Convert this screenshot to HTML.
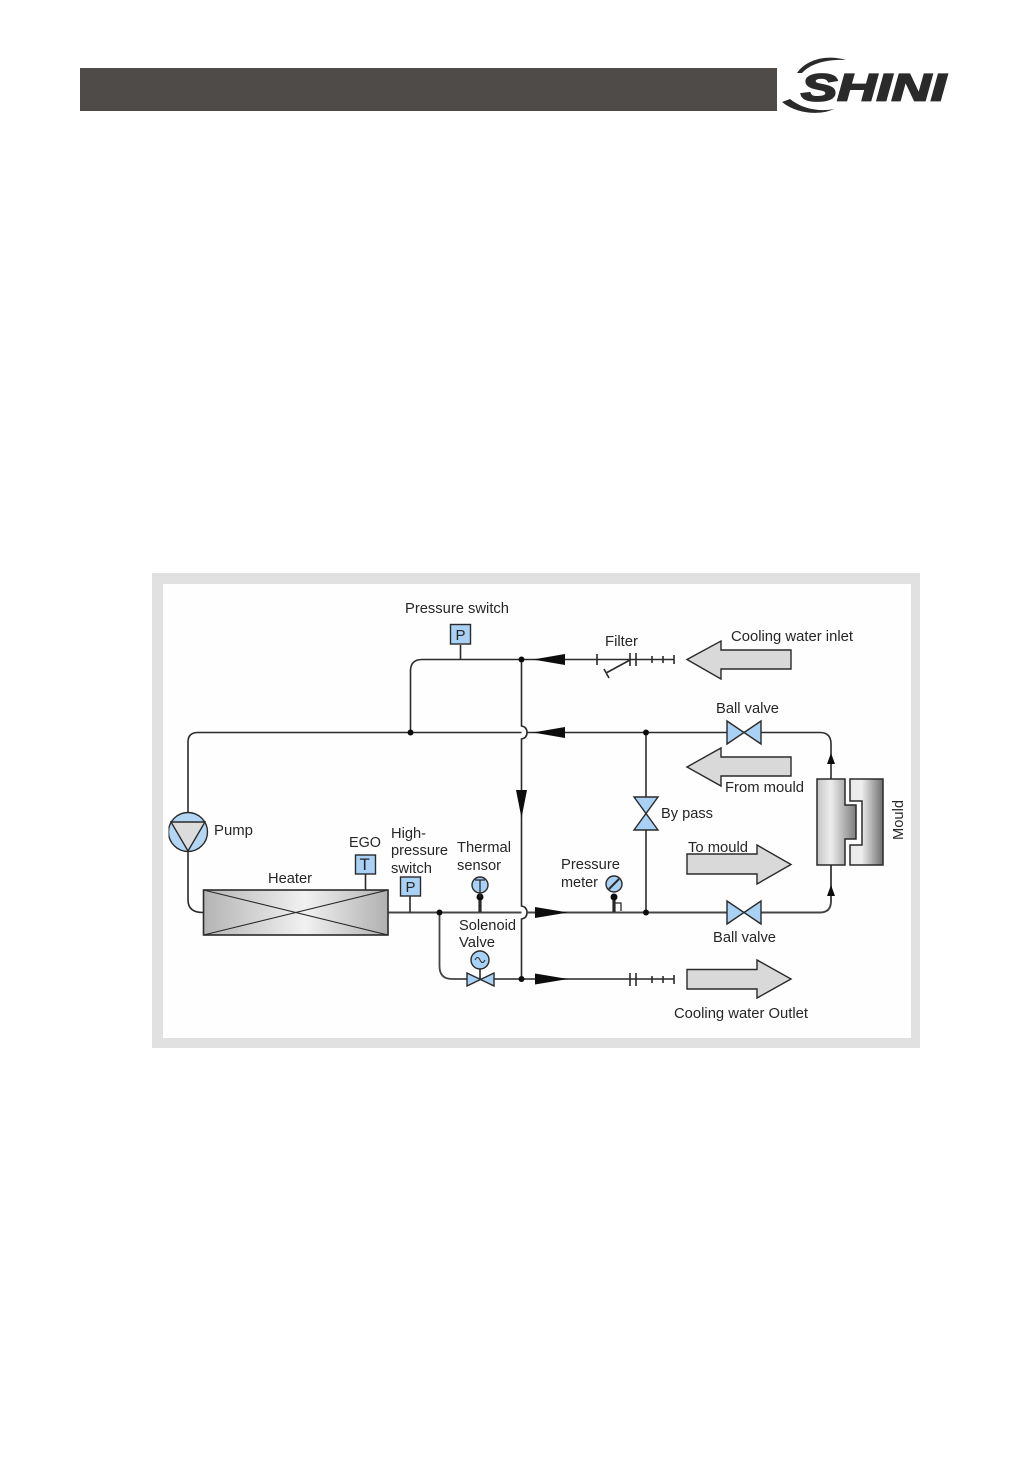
<!DOCTYPE html>
<html><head><meta charset="utf-8"><style>
html,body{margin:0;padding:0;background:#fff}
svg{display:block}
text{font-family:"Liberation Sans",sans-serif;font-size:14.5px;fill:#262626}
</style></head><body>
<svg width="1032" height="1458" viewBox="0 0 1032 1458" xmlns="http://www.w3.org/2000/svg">
<defs>
<linearGradient id="h" x1="0" x2="1" y1="0" y2="0"><stop offset="0" stop-color="#b4b4b4"/><stop offset=".55" stop-color="#f1f1f1"/><stop offset="1" stop-color="#b0b0b0"/></linearGradient>
<linearGradient id="ml" gradientUnits="userSpaceOnUse" x1="817" x2="856" y1="0" y2="0"><stop offset="0" stop-color="#c4c4c4"/><stop offset=".35" stop-color="#eeeeee"/><stop offset="1" stop-color="#7d7d7d"/></linearGradient>
<linearGradient id="mr" x1="0" x2="1" y1="0" y2="0"><stop offset="0" stop-color="#e8e8e8"/><stop offset=".35" stop-color="#efefef"/><stop offset="1" stop-color="#6e6e6e"/></linearGradient>
<filter id="soft" x="0" y="0" width="100%" height="100%"><feGaussianBlur stdDeviation="0.35"/></filter>
</defs>
<rect x="80" y="68" width="697" height="43" fill="#4f4b49"/>
<!-- logo -->
<g fill="#2a2a2a" filter="url(#soft)">
<path d="M797 73 C806 60 826 54 846 60 C826 59 810 64 802 73Z"/>
<path d="M782 102 L790 99 C802 109 820 112 834 109 C822 115 798 115 782 102Z"/>
<text x="801" y="100.500" textLength="145" lengthAdjust="spacingAndGlyphs" style="font-size:38px;font-weight:bold;font-style:italic;fill:#2a2a2a;stroke:#2a2a2a;stroke-width:1.8">SHINI</text>
</g>
<!-- frame -->
<rect x="152" y="573" width="768" height="475" fill="#e1e1e1"/>
<rect x="163" y="584" width="748" height="454" fill="#fefefe"/>
<g filter="url(#soft)">
<!-- pipes -->
<g fill="none" stroke="#2b2b2b" stroke-width="1.6">
<path d="M188 832V742Q188 732.500 198 732.500H521.500"/>
<path d="M527 732.500H727M761 732.500H820Q831 732.500 831 744V780"/>
<path d="M410.500 732.500V671Q410.500 659.500 422 659.500H674"/>
<path d="M521.500 659.500V726Q527 727 527 732.500Q527 738 521.500 739V906Q527 907 527 912.500Q527 918 521.500 919V979"/>
<path d="M188 850V900Q188 912.500 203 912.500"/>
<path d="M388 912.500H521.500M527 912.500H727M761 912.500H820Q831 912.500 831 901V865" stroke="#444" stroke-width="1.900"/>
<path d="M646 732.500V797M646 830V912.500" stroke="#444" stroke-width="1.800"/>
<path d="M439.500 912.500V966Q439.500 979 452 979H467M494 979H674" stroke="#444" stroke-width="1.800"/>
<path d="M460.500 645V659.500M365.500 874V890M410 896V912.500M480 968V979"/>
<path d="M597 654V665M630 653V666M636 653V666M652 656V663M663 656V663M674 655V664M630 660L607 672.500M604 669L609 678"/>
<path d="M630 973V986M636 973V986M652 976V983M663 976V983M674 975V984"/>
<path d="M615 903H621V911" stroke-width="1.300"/>
<path d="M480 897V912M614 897V912" stroke-width="3.200"/>
</g>
<!-- dots -->
<g fill="#111">
<circle cx="410.500" cy="732.500" r="3"/><circle cx="521.500" cy="659.500" r="3"/><circle cx="646" cy="732.500" r="3"/><circle cx="646" cy="912.500" r="3"/><circle cx="439.500" cy="912.500" r="3"/><circle cx="521.500" cy="979" r="3"/><circle cx="480" cy="897" r="3.500"/><circle cx="614" cy="897" r="3.500"/>
<!-- flow arrows -->
<path d="M533 659.500L565 654V665Z"/><path d="M533 732.500L565 727V738Z"/>
<path d="M568 912.500L535 907V918Z"/><path d="M568 979L535 973.500V984.500Z"/>
<path d="M521.500 818L516 790H527Z"/>
<path d="M831 753L827 764H835Z"/><path d="M831 885L827 896H835Z"/>
</g>
<!-- pump -->
<g stroke="#2b2b2b" stroke-width="1.400">
<circle cx="188" cy="832" r="19.500" fill="#b3d6f4"/>
<path d="M171 822H205L188 851Z" fill="#dcdcdc"/>
<!-- heater -->
<rect x="203.500" y="890" width="184.500" height="45" fill="url(#h)" stroke-width="1.600"/>
<path d="M203.500 890L388 935M388 890L203.500 935" fill="none" stroke-width="1.100"/>
<!-- boxes -->
<rect x="355.500" y="855" width="20" height="19" fill="#a9d1f5"/>
<rect x="400.500" y="877" width="20" height="19" fill="#a9d1f5"/>
<rect x="450.500" y="624.500" width="20" height="19.500" fill="#a9d1f5"/>
<!-- sensors -->
<circle cx="480" cy="885" r="8" fill="#a9d1f5"/>
<circle cx="480" cy="960" r="9" fill="#a9d1f5"/>
<path d="M475 960Q477.500 955 480 960T485 960" fill="none" stroke-width="1"/>
<path d="M475 880H485M480 880V897" fill="none" stroke-width="1.300"/>
<circle cx="614" cy="884" r="8" fill="#a9d1f5"/>
<path d="M609 889L619 879" fill="none" stroke-width="2"/>
<!-- valves -->
<path d="M727 721L744 732.500L727 744ZM761 721L744 732.500L761 744Z" fill="#a9d1f5"/>
<path d="M727 901L744 912.500L727 924ZM761 901L744 912.500L761 924Z" fill="#a9d1f5"/>
<path d="M634 797H658L646 813.500ZM634 830H658L646 813.500Z" fill="#a9d1f5"/>
<path d="M467 973L480.500 979.500L467 986ZM494 973L480.500 979.500L494 986Z" fill="#a9d1f5"/>
<!-- big arrows -->
<path d="M687 659.500L721 641V650H791V669H721V679Z" fill="#d9d9d9"/>
<path d="M687 767L721 748V757H791V776H721V786Z" fill="#d9d9d9"/>
<path d="M687 854H757V845L791 864.500L757 884V874H687Z" fill="#d9d9d9"/>
<path d="M687 969.500H757V960L791 979L757 998V989H687Z" fill="#d9d9d9"/>
<!-- mould -->
<path d="M817 779H845V805H856V839H845V865H817Z" fill="url(#ml)" stroke-width="1.500"/>
<path d="M850 779H883V865H850V845H862V801H850Z" fill="url(#mr)" stroke-width="1.500"/>
</g>
<!-- letters -->
<text x="359.500" y="870" style="font-size:17px">T</text>
<text x="405.500" y="892" style="font-size:15px">P</text>
<text x="455.500" y="640" style="font-size:15px">P</text>
<!-- labels -->
<text x="405" y="613" textLength="104" lengthAdjust="spacingAndGlyphs">Pressure switch</text>
<text x="605" y="646" textLength="33" lengthAdjust="spacingAndGlyphs">Filter</text>
<text x="731" y="641" textLength="122" lengthAdjust="spacingAndGlyphs">Cooling water inlet</text>
<text x="716" y="713" textLength="63" lengthAdjust="spacingAndGlyphs">Ball valve</text>
<text x="725" y="792" textLength="79" lengthAdjust="spacingAndGlyphs">From mould</text>
<text x="661" y="818" textLength="52" lengthAdjust="spacingAndGlyphs">By pass</text>
<text x="214" y="835" textLength="39" lengthAdjust="spacingAndGlyphs">Pump</text>
<text x="349" y="847" textLength="32" lengthAdjust="spacingAndGlyphs">EGO</text>
<text x="391" y="838" textLength="35" lengthAdjust="spacingAndGlyphs">High-</text>
<text x="391" y="855" textLength="57" lengthAdjust="spacingAndGlyphs">pressure</text>
<text x="391" y="873" textLength="41" lengthAdjust="spacingAndGlyphs">switch</text>
<text x="457" y="852" textLength="54" lengthAdjust="spacingAndGlyphs">Thermal</text>
<text x="457" y="870" textLength="44" lengthAdjust="spacingAndGlyphs">sensor</text>
<text x="268" y="883" textLength="44" lengthAdjust="spacingAndGlyphs">Heater</text>
<text x="459" y="930" textLength="57" lengthAdjust="spacingAndGlyphs">Solenoid</text>
<text x="459" y="947" textLength="36" lengthAdjust="spacingAndGlyphs">Valve</text>
<text x="561" y="869" textLength="59" lengthAdjust="spacingAndGlyphs">Pressure</text>
<text x="561" y="887" textLength="37" lengthAdjust="spacingAndGlyphs">meter</text>
<text x="688" y="852" textLength="60" lengthAdjust="spacingAndGlyphs">To mould</text>
<text x="713" y="942" textLength="63" lengthAdjust="spacingAndGlyphs">Ball valve</text>
<text x="674" y="1018" textLength="134" lengthAdjust="spacingAndGlyphs">Cooling water Outlet</text>
<text transform="translate(903 840) rotate(-90)" textLength="40" lengthAdjust="spacingAndGlyphs">Mould</text>
</g>
</svg>
</body></html>
